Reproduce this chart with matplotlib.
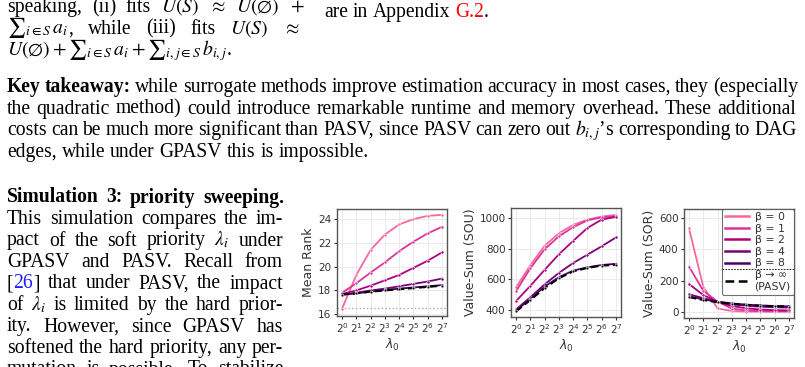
import matplotlib
matplotlib.use("Agg")
import matplotlib.pyplot as plt
from matplotlib.lines import Line2D
from matplotlib.ticker import NullLocator

W, H = 805, 367
SERIF = "Liberation Serif"
BODY = 14.1
RED = "#ff0000"
LINK = "#1a1aff"

# ── Data ──────────────────────────────────────────────────────────────────────
lam = [1, 2, 4, 8, 16, 32, 64, 128]
lam_ticks = [r"$2^{%d}$" % i for i in range(8)]
beta_labels = ["β = 0", "β = 1", "β = 2", "β = 4", "β = 8"]
pasv_label = "β → ∞\n(PASV)"
beta_colors = ["#f768a1", "#dd3497", "#ae017e", "#7a0177", "#49006a"]

rank_b0 = [16.45, 19.3, 21.4, 22.7, 23.55, 24.0, 24.27, 24.36]
rank_b1 = [17.8, 18.6, 19.5, 20.35, 21.3, 22.1, 22.8, 23.35]
rank_b2 = [17.7, 18.0, 18.4, 18.85, 19.3, 19.9, 20.5, 21.2]
rank_b4 = [17.65, 17.8, 18.0, 18.15, 18.35, 18.55, 18.75, 19.0]
rank_b8 = [17.65, 17.75, 17.9, 18.05, 18.15, 18.25, 18.35, 18.45]
rank_pasv = [17.65, 17.75, 17.9, 18.0, 18.1, 18.2, 18.3, 18.4]
rank_ref = 16.5

sou_b0 = [545, 690, 818, 900, 955, 990, 1010, 1020]
sou_b1 = [520, 670, 795, 880, 940, 985, 1005, 1012]
sou_b2 = [455, 555, 660, 762, 850, 935, 990, 1008]
sou_b4 = [400, 480, 565, 640, 705, 760, 815, 873]
sou_b8 = [392, 470, 550, 612, 655, 677, 692, 700]
sou_pasv = [388, 462, 540, 605, 650, 673, 688, 693]

sor_b0 = [533, 160, 23, 6, 3, 2, 2, 2]
sor_b1 = [289, 135, 66, 22, 10, 6, 5, 5]
sor_b2 = [178, 108, 64, 38, 24, 16, 12, 10]
sor_b4 = [113, 88, 65, 50, 40, 34, 30, 28]
sor_b8 = [100, 80, 66, 55, 47, 42, 38, 36]
sor_pasv = [95, 76, 62, 52, 45, 40, 37, 35]

fig = plt.figure(figsize=(W / 100, H / 100), dpi=100)
fig.patch.set_facecolor("white")
renderer = fig.canvas.get_renderer()


# ── Body text (justified word by word) ────────────────────────────────────────
def put_line(words, base, x0, x1=None):
    items, total = [], 0.0
    for w in words:
        if isinstance(w, str):
            w = [(w, "black", "normal")]
        parts, ww = [], 0.0
        for s, c, wt in w:
            t = fig.text(0, 1 - base / H, s, fontsize=BODY, family=SERIF, color=c,
                         weight=wt, ha="left", va="baseline", math_fontfamily="stix")
            tw = t.get_window_extent(renderer).width
            parts.append((t, tw))
            ww += tw
        items.append(parts)
        total += ww
    gap = 0.25 * BODY * 100 / 72
    if x1 is not None and len(items) > 1:
        gap = (x1 - x0 - total) / (len(items) - 1)
    x = x0
    for parts in items:
        for t, tw in parts:
            t.set_x(x / W)
            x += tw
        x += gap


def B(s):
    return [(s, "black", "bold")]


put_line(["speaking,", "(ii)", "fits", "$U(S)$", r"$\approx$", r"$U(\emptyset)$", "$+$"], 12, 7, 304)
put_line([[(r"${\sum}_{i\in S}\,a_i$", "black", "normal"), (",", "black", "normal")],
          "while", "(iii)", "fits", "$U(S)$", r"$\approx$"], 33.5, 7, 300)
put_line([r"$U(\emptyset)+{\sum}_{i\in S}\,a_i+{\sum}_{i,j\in S}\,b_{i,j}$."], 55, 7)
put_line(["are", "in", "Appendix", [("G.2", RED, "normal"), (".", "black", "normal")]], 17, 324)

k1 = "while surrogate methods improve estimation accuracy in most cases, they (especially".split()
put_line([B("Key"), B("takeaway:")] + k1, 92, 7, 798)
put_line("the quadratic method) could introduce remarkable runtime and memory overhead. These additional".split(),
         113.5, 7, 796)
put_line("costs can be much more significant than PASV, since PASV can zero out".split()
         + [r"$b_{i,j}$’s", "corresponding", "to", "DAG"], 135, 7, 797)
put_line("edges, while under GPASV this is impossible.".split(), 157, 7)

put_line([B(s) for s in "Simulation 3: priority sweeping.".split()], 202.5, 7, 284)
sim_lines = [
    "This simulation compares the im-".split(),
    "pact of the soft priority".split() + [r"$\lambda_i$", "under"],
    "GPASV and PASV. Recall from".split(),
    [[("[", "black", "normal"), ("26", LINK, "normal"), ("]", "black", "normal")]]
    + "that under PASV, the impact".split(),
    ["of", r"$\lambda_i$"] + "is limited by the hard prior-".split(),
    "ity. However, since GPASV has".split(),
    "softened the hard priority, any per-".split(),
    "mutation is possible. To stabilize".split(),
]
for i, ln in enumerate(sim_lines):
    put_line(ln, 224 + 21.5 * i, 7, 283)


# ── Charts ────────────────────────────────────────────────────────────────────
def style(ax, ylabel):
    ax.set_xscale("log", base=2)
    ax.set_xticks(lam)
    ax.set_xticklabels(lam_ticks)
    ax.xaxis.set_minor_locator(NullLocator())
    ax.grid(True, color="#e8e8e8", lw=0.6)
    ax.set_axisbelow(True)
    for s in ax.spines.values():
        s.set_color("#555555")
        s.set_linewidth(1.0)
    ax.tick_params(labelsize=7.5, length=2.5, width=0.8, pad=1.5, colors="#333333")
    ax.set_xlabel(r"$\lambda_0$", fontsize=9, labelpad=1, color="#333333")
    ax.set_ylabel(ylabel, fontsize=9, labelpad=2, color="#333333")


def draw(ax, series, pasv):
    for vals, c in zip(series, beta_colors):
        ax.plot(lam, vals, color=c, lw=1.3, marker="o", ms=2.2, mec="white", mew=0.4, zorder=3)
    ax.plot(lam, pasv, color="black", lw=1.5, ls=(0, (3.5, 1.8)), marker="o", ms=2,
            mec="white", mew=0.4, zorder=4)


ax1 = fig.add_axes([337 / W, 1 - 316 / H, 110 / W, 107 / H])
ax1.axhline(rank_ref, color="#aaaaaa", ls=":", lw=1.0, zorder=2)
draw(ax1, [rank_b0, rank_b1, rank_b2, rank_b4, rank_b8], rank_pasv)
ax1.set_ylim(15.85, 24.85)
ax1.set_yticks([16, 18, 20, 22, 24])
style(ax1, "Mean Rank")

ax2 = fig.add_axes([511 / W, 1 - 317 / H, 110 / W, 109 / H])
draw(ax2, [sou_b0, sou_b1, sou_b2, sou_b4, sou_b8], sou_pasv)
ax2.set_ylim(351, 1066)
ax2.set_yticks([400, 600, 800, 1000])
style(ax2, "Value-Sum (SOU)")

ax3 = fig.add_axes([684 / W, 1 - 318 / H, 110 / W, 109 / H])
draw(ax3, [sor_b0, sor_b1, sor_b2, sor_b4, sor_b8], sor_pasv)
ax3.set_ylim(-38, 655)
ax3.set_yticks([0, 200, 400, 600])
style(ax3, "Value-Sum (SOR)")

handles = [Line2D([], [], color=c, lw=1.8) for c in beta_colors]
handles.append(Line2D([], [], color="black", lw=1.8, ls=(0, (3.5, 1.8))))
leg = ax3.legend(handles, beta_labels + [pasv_label], loc="upper right", borderaxespad=0,
                 fontsize=7.8, labelspacing=0.14, handlelength=2.2, handletextpad=0.5,
                 borderpad=0.3, framealpha=0.85, edgecolor="#555555")
leg.get_frame().set_linewidth(0.8)
for t in leg.get_texts():
    t.set_color("#333333")

fig.canvas.draw()
lb = leg.get_window_extent(renderer)
t4 = leg.get_texts()[4].get_window_extent(renderer)
t5 = leg.get_texts()[5].get_window_extent(renderer)
ysep = (t4.y0 + t5.y1) / 2
fig.add_artist(Line2D([lb.x0 / W, lb.x1 / W], [ysep / H, ysep / H], color="black",
                      lw=0.6, ls=(0, (2, 1.5)), zorder=10))

fig.savefig("out.png", dpi=100)
